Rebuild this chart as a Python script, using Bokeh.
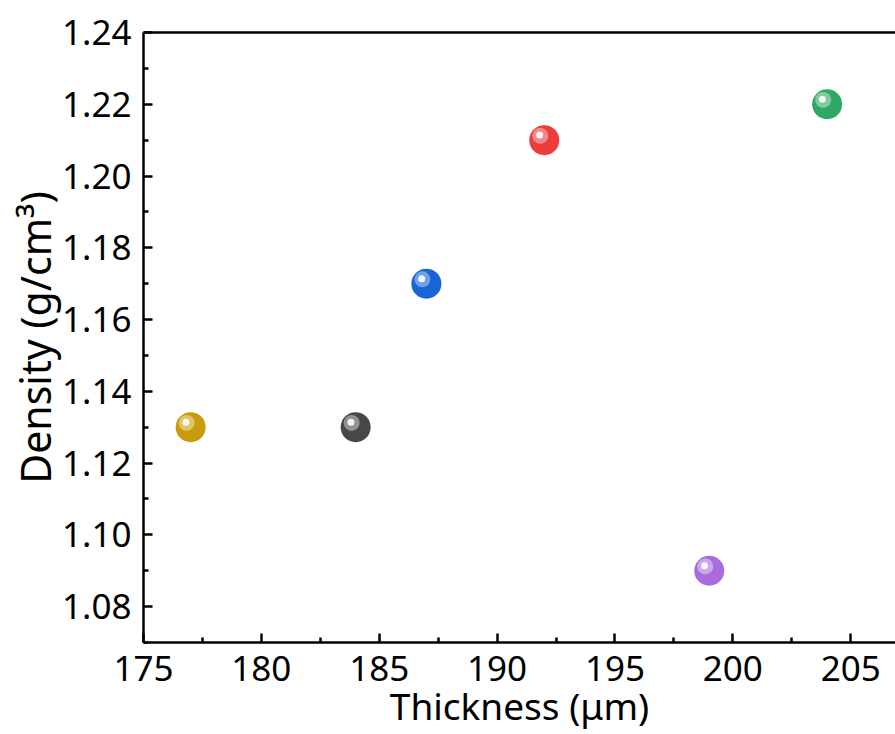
from bokeh.plotting import figure
from bokeh.models import ColumnDataSource, LinearAxis, Range1d, FixedTicker, CustomJSTickFormatter
from bokeh.transform import dodge
from bokeh.embed import file_html
from bokeh.resources import INLINE

# data
thickness = [177, 184, 187, 192, 199, 204]
density = [1.13, 1.13, 1.17, 1.21, 1.09, 1.22]
colors = ["#C99A0C", "#474747", "#1766D6", "#EE3B3E", "#A86DDA", "#2FA866"]
highlights = ["#EBD590", "#B0B0B0", "#95BBEE", "#F8A8AA", "#DAC2F2", "#A2DCBB"]
x_ticks = [175, 180, 185, 190, 195, 200, 205]
y_ticks = [1.08, 1.10, 1.12, 1.14, 1.16, 1.18, 1.20, 1.22, 1.24]

FONT = "Noto Sans"

src = ColumnDataSource(dict(x=thickness, y=density, c=colors, h=highlights))

p = figure(width=895, height=734, output_backend="svg", toolbar_location=None,
           x_range=Range1d(175, 206.9), y_range=Range1d(1.07, 1.24),
           min_border_left=143, min_border_bottom=92, min_border_top=32,
           min_border_right=0)
p.outline_line_color = None
p.grid.visible = False
p.background_fill_color = "white"
p.border_fill_color = "white"

# sphere-like markers
p.scatter("x", "y", source=src, size=30, fill_color="c", line_color=None)
p.scatter(dodge("x", -0.17, range=p.x_range), dodge("y", 0.0012, range=p.y_range),
          source=src, size=16, fill_color="h", fill_alpha=0.7, line_color=None)
p.scatter(dodge("x", -0.2, range=p.x_range), dodge("y", 0.0014, range=p.y_range),
          source=src, size=7, fill_color="white", fill_alpha=0.9, line_color=None)

for ax in (p.xaxis[0], p.yaxis[0]):
    ax.axis_line_width = 2.5
    ax.axis_line_color = "black"
    ax.major_tick_line_width = 2.5
    ax.minor_tick_line_width = 2.5
    ax.major_tick_in = 9
    ax.major_tick_out = 0
    ax.minor_tick_in = 5
    ax.minor_tick_out = 0
    ax.major_label_text_font = FONT
    ax.major_label_text_font_size = "35px"
    ax.major_label_text_color = "black"
    ax.axis_label_text_font = FONT
    ax.axis_label_text_font_style = "normal"
    ax.axis_label_text_color = "black"

p.xaxis[0].axis_label_text_font_size = "37px"
p.yaxis[0].axis_label_text_font_size = "41px"
p.xaxis[0].ticker = FixedTicker(ticks=x_ticks, minor_ticks=[177.5 + 5 * i for i in range(7)])
p.yaxis[0].ticker = FixedTicker(ticks=y_ticks, minor_ticks=[1.07 + 0.02 * i for i in range(9)])
p.xaxis[0].axis_label = "Thickness (μm)"
p.yaxis[0].axis_label = "Density (g/cm³)"
p.xaxis[0].major_label_standoff = 13
p.yaxis[0].major_label_standoff = 12
p.xaxis[0].axis_label_standoff = -4
p.yaxis[0].axis_label_standoff = -4
p.yaxis[0].formatter = CustomJSTickFormatter(code="return tick.toFixed(2);")

top = LinearAxis(ticker=FixedTicker(ticks=[]), major_tick_in=0, major_tick_out=0,
                 minor_tick_in=0, minor_tick_out=0, major_label_text_font_size="0px",
                 axis_line_width=2.5, axis_line_color="black")
p.add_layout(top, "above")

open("out.html", "w").write(file_html(p, INLINE))
